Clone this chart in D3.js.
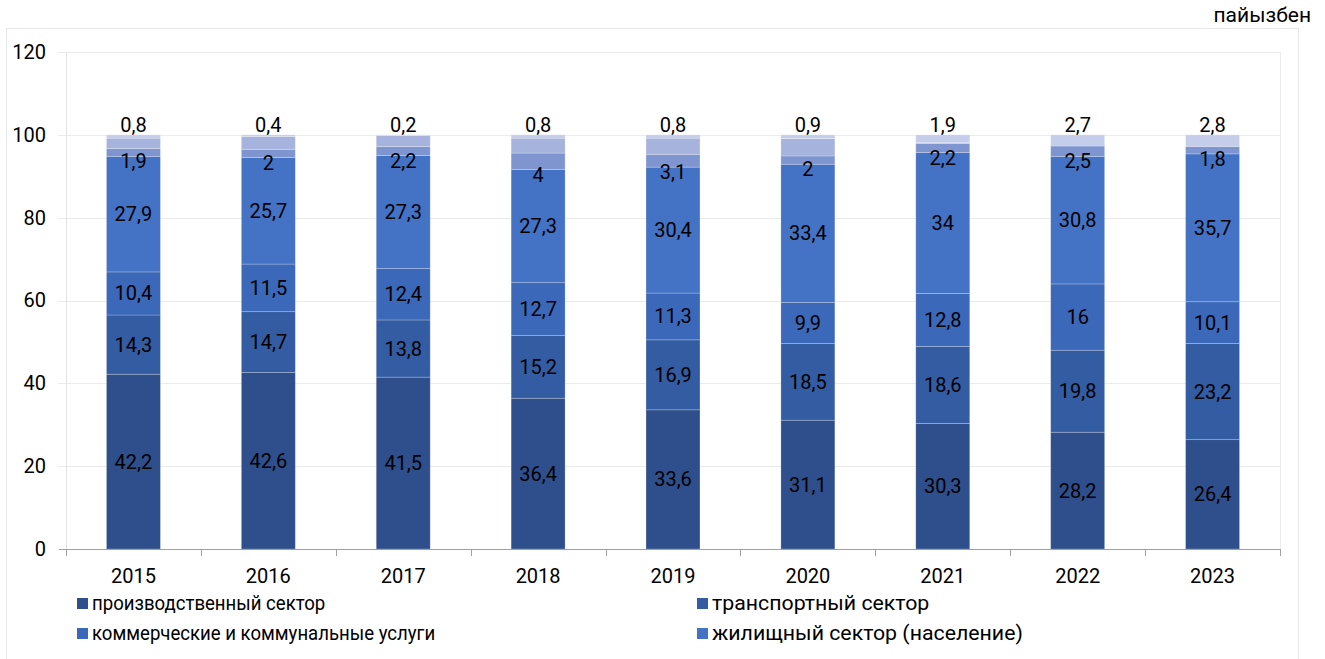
<!DOCTYPE html>
<html>
<head>
<meta charset="utf-8">
<script src="https://cdn.jsdelivr.net/npm/d3@7"></script>
<style>
  body { margin: 0; background: #fff; }
  text { font-family: Roboto, "Noto Sans", sans-serif; fill: #000; }
</style>
</head>
<body>
<div id="plot"></div>
<script>
// data (percent of total)
const years = ['2015', '2016', '2017', '2018', '2019', '2020', '2021', '2022', '2023']
const production = [42.2, 42.6, 41.5, 36.4, 33.6, 31.1, 30.3, 28.2, 26.4]
const transport = [14.3, 14.7, 13.8, 15.2, 16.9, 18.5, 18.6, 19.8, 23.2]
const commercial = [10.4, 11.5, 12.4, 12.7, 11.3, 9.9, 12.8, 16, 10.1]
const residential = [27.9, 25.7, 27.3, 27.3, 30.4, 33.4, 34, 30.8, 35.7]
const fifthSeries = [1.9, 2, 2.2, 4, 3.1, 2, 2.2, 2.5, 1.8]
const sixthSeries = [2.5, 3.1, 2.6, 3.6, 3.9, 4.2, 0.2, 0, 0]
const seventhSeries = [0.8, 0.4, 0.2, 0.8, 0.8, 0.9, 1.9, 2.7, 2.8]
const yTicks = [0, 20, 40, 60, 80, 100, 120]
const unitLabel = 'пайызбен'

const series = [
  { key: 'production', name: 'производственный сектор', values: production, color: '#2E4F8B', label: 'center' },
  { key: 'transport', name: 'транспортный сектор', values: transport, color: '#335CA3', label: 'center' },
  { key: 'commercial', name: 'коммерческие и коммунальные услуги', values: commercial, color: '#3B68B8', label: 'center' },
  { key: 'residential', name: 'жилищный сектор (население)', values: residential, color: '#4472C4', label: 'center' },
  { key: 's5', name: '', values: fifthSeries, color: '#7E95D0', label: 'below' },
  { key: 's6', name: '', values: sixthSeries, color: '#A6B4DD', label: 'none' },
  { key: 's7', name: '', values: seventhSeries, color: '#C4CDE9', label: 'top' }
]

const width = 1325
const height = 659
const margin = { left: 66, right: 1280, top: 52, bottom: 549 }

const svg = d3.select('#plot')
  .append('svg')
  .attr('width', width)
  .attr('height', height)

svg.append('rect')
  .attr('width', width)
  .attr('height', height)
  .attr('fill', '#fff')

// chart frame
svg.append('rect')
  .attr('x', 6.5).attr('y', 28.5)
  .attr('width', 1292).attr('height', 700)
  .attr('fill', 'none')
  .attr('stroke', '#E8E8E8')

svg.append('text')
  .attr('x', 1311).attr('y', 15)
  .attr('text-anchor', 'end')
  .attr('dominant-baseline', 'central')
  .style('font-size', '21px')
  .text(unitLabel)

const x = d3.scaleBand()
  .domain(years)
  .range([margin.left, margin.right])
  .padding(0)

const y = d3.scaleLinear()
  .domain([0, 120])
  .range([margin.bottom, margin.top])

// gridlines
svg.append('g')
  .selectAll('line')
  .data(yTicks.filter(d => d > 0))
  .enter()
  .append('line')
  .attr('x1', 58).attr('x2', margin.right)
  .attr('y1', d => Math.round(y(d)) + 0.5)
  .attr('y2', d => Math.round(y(d)) + 0.5)
  .attr('stroke', '#EBEBEB')

// left and right edges of plot area
svg.append('line')
  .attr('x1', margin.left + 0.5).attr('x2', margin.left + 0.5)
  .attr('y1', margin.top).attr('y2', margin.bottom)
  .attr('stroke', '#E3E3E3')
svg.append('line')
  .attr('x1', margin.right + 0.5).attr('x2', margin.right + 0.5)
  .attr('y1', margin.top).attr('y2', margin.bottom)
  .attr('stroke', '#EBEBEB')

// y axis labels
const yAxis = svg.append('g')
  .attr('transform', 'translate(46,0)')
  .call(d3.axisLeft(y).tickValues(yTicks).tickSize(0).tickFormat(d3.format('d')))
yAxis.select('.domain').remove()
yAxis.selectAll('text')
  .attr('x', 0)
  .style('font-size', '20px')
  .style('font-family', 'Roboto, sans-serif')
  .attr('fill', '#000')

// stacked bars
const table = years.map((yr, i) => {
  const row = { year: yr }
  series.forEach(s => { row[s.key] = s.values[i] })
  return row
})
const stacked = d3.stack().keys(series.map(s => s.key))(table)

const barW = x.bandwidth() * 0.4
const barX = d => x(d.data.year) + (x.bandwidth() - barW) / 2

const layers = svg.append('g')
  .selectAll('g')
  .data(stacked)
  .enter()
  .append('g')
  .attr('fill', (d, i) => series[i].color)

layers.selectAll('rect')
  .data(d => d)
  .enter()
  .append('rect')
  .attr('x', barX)
  .attr('width', barW)
  .attr('y', d => y(d[1]))
  .attr('height', d => y(d[0]) - y(d[1]))
  .attr('stroke', 'rgba(255,255,255,0.3)')
  .attr('stroke-width', 0.75)

// bottom axis line with category ticks
svg.append('line')
  .attr('x1', 59).attr('x2', margin.right + 1)
  .attr('y1', margin.bottom + 0.5).attr('y2', margin.bottom + 0.5)
  .attr('stroke', '#A0A0A0')

const bounds = years.map(yr => x(yr)).concat([margin.right])
svg.append('g')
  .selectAll('line')
  .data(bounds)
  .enter()
  .append('line')
  .attr('x1', d => Math.round(d) + 0.5).attr('x2', d => Math.round(d) + 0.5)
  .attr('y1', margin.bottom).attr('y2', margin.bottom + 7)
  .attr('stroke', '#A0A0A0')

svg.append('g')
  .selectAll('text')
  .data(years)
  .enter()
  .append('text')
  .attr('x', d => x(d) + x.bandwidth() / 2)
  .attr('y', 576)
  .attr('text-anchor', 'middle')
  .attr('dominant-baseline', 'central')
  .style('font-size', '20px')
  .text(d => d)

// data labels
const fmt = v => String(v).replace('.', ',')
stacked.forEach((layer, i) => {
  const mode = series[i].label
  if (mode === 'none') return
  svg.append('g')
    .selectAll('text')
    .data(layer)
    .enter()
    .append('text')
    .attr('x', d => x(d.data.year) + x.bandwidth() / 2)
    .attr('y', d => {
      if (mode === 'top') return y(d[1]) - 10
      if (mode === 'below') return y(d[0]) + 5
      return (y(d[0]) + y(d[1])) / 2
    })
    .attr('text-anchor', 'middle')
    .attr('dominant-baseline', 'central')
    .style('font-size', '20px')
    .text(d => fmt(d.data[series[i].key]))
})

// legend, two columns (left column is drawn a bit narrower in the original)
const legendItems = series.filter(s => s.name !== '')
const legendCols = [77, 697]
const legendStretch = [0.93, 1.065]
const legendRows = [603, 633]
const legend = svg.append('g')
  .selectAll('g')
  .data(legendItems)
  .enter()
  .append('g')
  .attr('transform', (d, i) => 'translate(' + legendCols[i % 2] + ',' + legendRows[Math.floor(i / 2)] + ')')

legend.append('rect')
  .attr('x', 0).attr('y', -5)
  .attr('width', 11).attr('height', 11)
  .attr('fill', d => d.color)

legend.append('text')
  .attr('transform', (d, i) => 'translate(15,0) scale(' + legendStretch[i % 2] + ',1)')
  .attr('dominant-baseline', 'central')
  .style('font-size', '20px')
  .text(d => d.name)
</script>
</body>
</html>
